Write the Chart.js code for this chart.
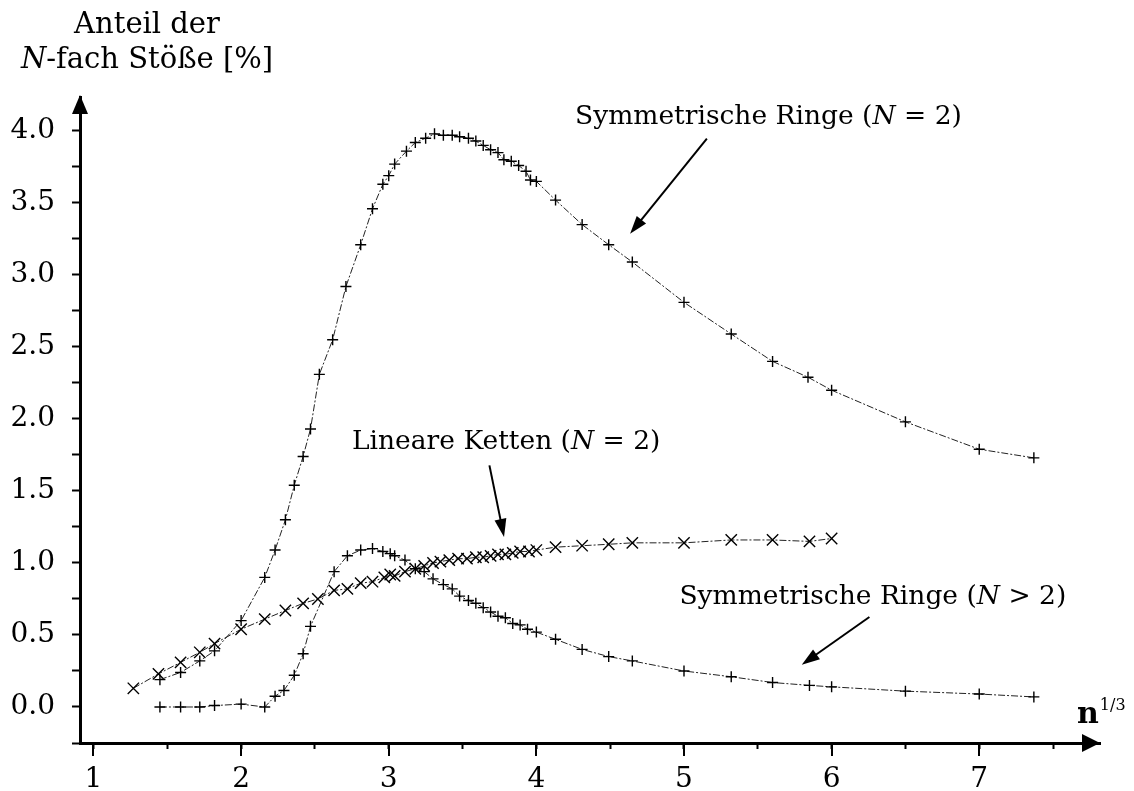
<!DOCTYPE html>
<html>
<head>
<meta charset="utf-8">
<script src="https://cdn.jsdelivr.net/npm/chart.js@4.4.1/dist/chart.umd.min.js"></script>
<style>
  html, body { margin: 0; padding: 0; background: #fff; }
  #wrap { width: 1134px; height: 791px; }
</style>
</head>
<body>
<div id="wrap"><canvas id="c" width="1134" height="791"></canvas></div>
<script>
const SERIF = '"DejaVu Serif", "Liberation Serif", serif';

// Symmetrische Ringe (N = 2): n^(1/3) and share of N-fold collisions [%]
const ringeN2X = [1.45, 1.59, 1.72, 1.82, 2.00, 2.16, 2.23, 2.30, 2.36, 2.42, 2.47, 2.53, 2.62, 2.71,
  2.81, 2.89, 2.96, 3.00, 3.04, 3.12, 3.18, 3.25, 3.31, 3.37, 3.43, 3.48, 3.54, 3.59, 3.64, 3.69,
  3.74, 3.78, 3.83, 3.88, 3.93, 3.96, 4.00, 4.13, 4.31, 4.49, 4.65, 5.00, 5.32, 5.60, 5.84, 6.00,
  6.50, 7.00, 7.37];
const ringeN2Y = [0.19, 0.24, 0.32, 0.39, 0.60, 0.90, 1.09, 1.30, 1.54, 1.74, 1.93, 2.31, 2.55, 2.92,
  3.21, 3.46, 3.63, 3.69, 3.77, 3.86, 3.92, 3.95, 3.98, 3.97, 3.97, 3.96, 3.95, 3.93, 3.90, 3.87,
  3.85, 3.80, 3.79, 3.76, 3.72, 3.66, 3.65, 3.52, 3.35, 3.21, 3.09, 2.81, 2.59, 2.40, 2.29, 2.20,
  1.98, 1.79, 1.73];

// Lineare Ketten (N = 2)
const kettenX = [1.27, 1.44, 1.59, 1.72, 1.82, 2.00, 2.16, 2.30, 2.42, 2.52, 2.63, 2.72, 2.81, 2.89,
  2.97, 3.01, 3.04, 3.11, 3.18, 3.24, 3.30, 3.35, 3.41, 3.47, 3.53, 3.59, 3.64, 3.69, 3.74, 3.79,
  3.84, 3.89, 3.95, 4.00, 4.13, 4.31, 4.49, 4.65, 5.00, 5.32, 5.60, 5.85, 6.00];
const kettenY = [0.13, 0.23, 0.31, 0.38, 0.44, 0.54, 0.61, 0.67, 0.72, 0.75, 0.81, 0.82, 0.86, 0.87,
  0.90, 0.92, 0.91, 0.94, 0.96, 0.98, 1.00, 1.01, 1.02, 1.03, 1.03, 1.04, 1.04, 1.05, 1.06, 1.06,
  1.07, 1.08, 1.08, 1.09, 1.11, 1.12, 1.13, 1.14, 1.14, 1.16, 1.16, 1.15, 1.17];

// Symmetrische Ringe (N > 2)
const ringeGt2X = [1.45, 1.59, 1.72, 1.82, 2.00, 2.16, 2.23, 2.29, 2.36, 2.42, 2.47, 2.63, 2.72, 2.81,
  2.89, 2.96, 3.01, 3.04, 3.11, 3.18, 3.24, 3.30, 3.37, 3.43, 3.48, 3.54, 3.59, 3.64, 3.69, 3.74,
  3.79, 3.84, 3.89, 3.94, 4.00, 4.13, 4.31, 4.49, 4.65, 5.00, 5.32, 5.60, 5.85, 6.00, 6.50, 7.00, 7.37];
const ringeGt2Y = [0.00, 0.00, 0.00, 0.01, 0.02, 0.00, 0.075, 0.115, 0.22, 0.37, 0.56, 0.94, 1.05, 1.09,
  1.10, 1.08, 1.065, 1.05, 1.02, 0.96, 0.94, 0.89, 0.85, 0.82, 0.77, 0.74, 0.72, 0.69, 0.66, 0.63,
  0.62, 0.58, 0.57, 0.54, 0.52, 0.47, 0.40, 0.35, 0.32, 0.25, 0.21, 0.17, 0.15, 0.14, 0.11, 0.09, 0.07];

// Axis tick labels
const xTickLabels = ['1', '2', '3', '4', '5', '6', '7'];
const yTickLabels = ['0.0', '0.5', '1.0', '1.5', '2.0', '2.5', '3.0', '3.5', '4.0'];

// Axis titles (parts flagged "i" are set in italics)
const yTitleLines = [
  [{ t: 'Anteil der' }],
  [{ t: 'N', i: true }, { t: '-fach Stöße [%]' }]
];
const xTitleMain = 'n';
const xTitleSup = '1/3';

// Curve labels with pointer arrows, placed in data coordinates
const curveNotes = [
  { parts: [{ t: 'Symmetrische Ringe (' }, { t: 'N', i: true }, { t: ' = 2)' }],
    at: [4.262, 4.047], from: [5.155, 3.947], to: [4.635, 3.287] },
  { parts: [{ t: 'Lineare Ketten (' }, { t: 'N', i: true }, { t: ' = 2)' }],
    at: [2.751, 1.79], from: [3.682, 1.678], to: [3.781, 1.181] },
  { parts: [{ t: 'Symmetrische Ringe (' }, { t: 'N', i: true }, { t: ' > 2)' }],
    at: [4.969, 0.713], from: [6.256, 0.625], to: [5.798, 0.294] }
];

const toPoints = (xs, ys) => xs.map((v, i) => ({ x: v, y: ys[i] }));

function drawRich(ctx, parts, x, y, size, align) {
  const fonts = parts.map(p => (p.i ? 'italic ' : '') + size + 'px ' + SERIF);
  const widths = parts.map((p, k) => { ctx.font = fonts[k]; return ctx.measureText(p.t).width; });
  const total = widths.reduce((s, w) => s + w, 0);
  let cx = align === 'center' ? x - total / 2 : x;
  ctx.textAlign = 'left';
  ctx.textBaseline = 'alphabetic';
  parts.forEach((p, k) => { ctx.font = fonts[k]; ctx.fillText(p.t, cx, y); cx += widths[k]; });
}

function arrowHead(ctx, tx, ty, fx, fy, len, half) {
  const ang = Math.atan2(ty - fy, tx - fx);
  const bx = tx - Math.cos(ang) * len, by = ty - Math.sin(ang) * len;
  const nx = -Math.sin(ang) * half, ny = Math.cos(ang) * half;
  ctx.beginPath();
  ctx.moveTo(tx, ty);
  ctx.lineTo(bx + nx, by + ny);
  ctx.lineTo(bx - nx, by - ny);
  ctx.closePath();
  ctx.fill();
}

const decorations = {
  id: 'decorations',
  afterDraw(chart) {
    const { ctx, chartArea: a, scales: { x, y } } = chart;
    ctx.save();
    ctx.fillStyle = '#000';
    ctx.strokeStyle = '#000';

    // longer marks at the whole-number ticks of the x axis
    ctx.lineWidth = 2;
    x.ticks.forEach(t => {
      if (Math.abs(t.value - Math.round(t.value)) < 1e-6) {
        const px = Math.round(x.getPixelForValue(t.value));
        ctx.beginPath();
        ctx.moveTo(px, a.bottom);
        ctx.lineTo(px, a.bottom + 13);
        ctx.stroke();
      }
    });

    // axis arrowheads
    arrowHead(ctx, a.left, a.top - 2, a.left, a.top + 40, 19, 8);
    arrowHead(ctx, a.right, a.bottom, a.right - 40, a.bottom, 18, 9);

    // y axis title
    drawRich(ctx, yTitleLines[0], 147, 33, 29, 'center');
    drawRich(ctx, yTitleLines[1], 147, 68, 29, 'center');

    // x axis title n^(1/3)
    ctx.textAlign = 'left';
    ctx.textBaseline = 'alphabetic';
    ctx.font = 'bold 30px ' + SERIF;
    ctx.fillText(xTitleMain, 1077, 723);
    const nw = ctx.measureText(xTitleMain).width;
    ctx.font = '16px ' + SERIF;
    ctx.fillText(xTitleSup, 1077 + nw + 1, 710);

    // curve labels and their arrows
    curveNotes.forEach(n => {
      drawRich(ctx, n.parts, x.getPixelForValue(n.at[0]), y.getPixelForValue(n.at[1]), 26.5, 'left');
      const fx = x.getPixelForValue(n.from[0]), fy = y.getPixelForValue(n.from[1]);
      const tx = x.getPixelForValue(n.to[0]), ty = y.getPixelForValue(n.to[1]);
      const ang = Math.atan2(ty - fy, tx - fx);
      ctx.lineWidth = 2;
      ctx.beginPath();
      ctx.moveTo(fx, fy);
      ctx.lineTo(tx - Math.cos(ang) * 12, ty - Math.sin(ang) * 12);
      ctx.stroke();
      arrowHead(ctx, tx, ty, fx, fy, 18, 6);
    });
    ctx.restore();
  }
};

const lineStyle = {
  showLine: true,
  borderColor: '#222',
  borderWidth: 1,
  borderDash: [7, 2, 2, 2],
  tension: 0,
  pointBorderColor: '#000',
  pointBorderWidth: 1.4,
  pointBackgroundColor: 'rgba(0,0,0,0)',
  pointHoverRadius: 0
};

new Chart(document.getElementById('c'), {
  type: 'scatter',
  data: {
    datasets: [
      Object.assign({ label: 'Symmetrische Ringe (N = 2)', data: toPoints(ringeN2X, ringeN2Y),
        pointStyle: 'cross', pointRadius: 5.5 }, lineStyle),
      Object.assign({ label: 'Symmetrische Ringe (N > 2)', data: toPoints(ringeGt2X, ringeGt2Y),
        pointStyle: 'cross', pointRadius: 5.5 }, lineStyle),
      Object.assign({ label: 'Lineare Ketten (N = 2)', data: toPoints(kettenX, kettenY),
        pointStyle: 'crossRot', pointRadius: 8 }, lineStyle)
    ]
  },
  options: {
    responsive: false,
    animation: false,
    devicePixelRatio: 1,
    layout: { padding: { top: 97, right: 34, left: 0, bottom: 0 } },
    plugins: { legend: { display: false }, tooltip: { enabled: false } },
    events: [],
    scales: {
      x: {
        type: 'linear',
        min: 0.9086,
        max: 7.818,
        afterFit: s => { s.height = 48; },
        border: { display: true, color: '#000', width: 3 },
        grid: { drawOnChartArea: false, drawTicks: true, tickLength: 6, tickWidth: 2, tickColor: '#000', color: '#000' },
        ticks: {
          stepSize: 0.5,
          includeBounds: false,
          autoSkip: false,
          maxRotation: 0,
          padding: 14,
          color: '#000',
          font: { family: SERIF, size: 28 },
          callback: v => (Math.abs(v - Math.round(v)) < 1e-6 ? (xTickLabels[Math.round(v) - 1] || '') : '')
        }
      },
      y: {
        type: 'linear',
        min: -0.25,
        max: 4.236,
        afterFit: s => { s.width = 80; },
        border: { display: true, color: '#000', width: 3 },
        grid: { drawOnChartArea: false, drawTicks: true, tickLength: 8, tickWidth: 2, tickColor: '#000', color: '#000' },
        ticks: {
          stepSize: 0.25,
          includeBounds: false,
          autoSkip: false,
          padding: 17,
          color: '#000',
          font: { family: SERIF, size: 28 },
          callback: v => {
            const k = Math.round(v / 0.5);
            return (Math.abs(v - k * 0.5) < 1e-6 && k >= 0) ? (yTickLabels[k] || '') : '';
          }
        }
      }
    }
  },
  plugins: [decorations]
});
</script>
</body>
</html>
